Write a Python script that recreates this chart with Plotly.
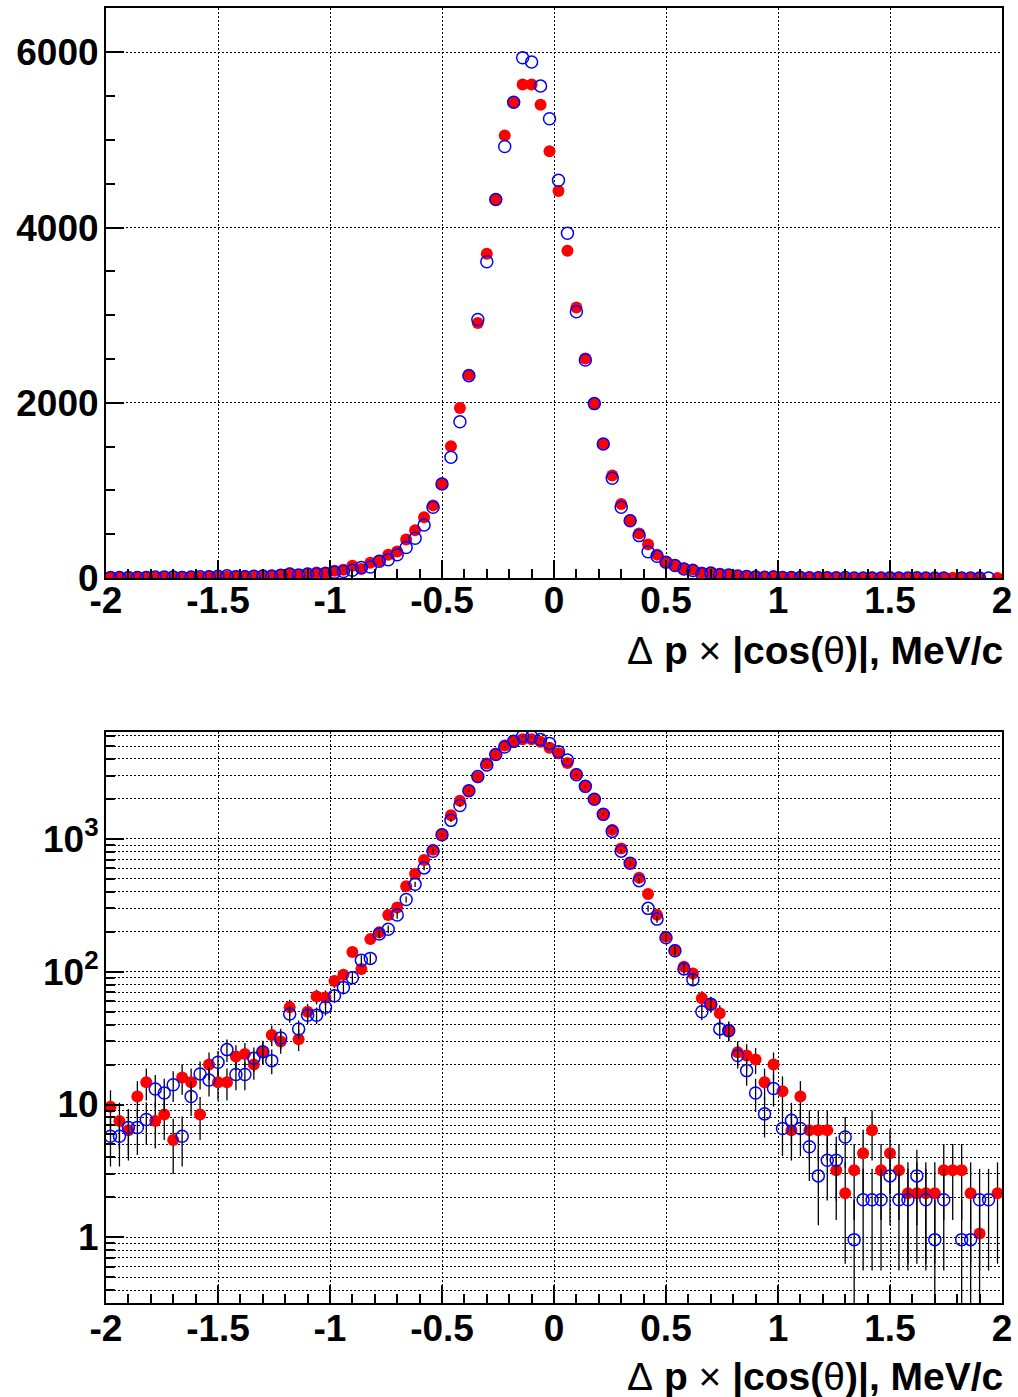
import numpy as np
import plotly.graph_objects as go

# bin centres (MeV/c), 100 bins of 0.04 between -2 and 2
bin_x = [-1.98, -1.94, -1.90, -1.86, -1.82, -1.78, -1.74, -1.70, -1.66, -1.62,
         -1.58, -1.54, -1.50, -1.46, -1.42, -1.38, -1.34, -1.30, -1.26, -1.22,
         -1.18, -1.14, -1.10, -1.06, -1.02, -0.98, -0.94, -0.90, -0.86, -0.82,
         -0.78, -0.74, -0.70, -0.66, -0.62, -0.58, -0.54, -0.50, -0.46, -0.42,
         -0.38, -0.34, -0.30, -0.26, -0.22, -0.18, -0.14, -0.10, -0.06, -0.02,
         0.02, 0.06, 0.10, 0.14, 0.18, 0.22, 0.26, 0.30, 0.34, 0.38,
         0.42, 0.46, 0.50, 0.54, 0.58, 0.62, 0.66, 0.70, 0.74, 0.78,
         0.82, 0.86, 0.90, 0.94, 0.98, 1.02, 1.06, 1.10, 1.14, 1.18,
         1.22, 1.26, 1.30, 1.34, 1.38, 1.42, 1.46, 1.50, 1.54, 1.58,
         1.62, 1.66, 1.70, 1.74, 1.78, 1.82, 1.86, 1.90, 1.94, 1.98]

red_vals = [9.6, 7.5, 6.4, 11.5, 14.7, 7.5, 8.4, 5.4, 16.0, 14.7,
            8.4, 20.0, 14.7, 14.7, 23.0, 24.0, 20.0, 25.0, 33.4, 29.8,
            54, 31, 50, 65, 64, 85, 95, 141, 105, 176,
            198, 267, 305, 440, 546, 695, 830, 1080, 1505, 1940,
            2320, 2910, 3700, 4320, 5050, 5430, 5633, 5633, 5402, 4870,
            4418, 3734, 3088, 2507, 1991, 1531, 1170, 847, 660, 510,
            385, 268, 183, 146, 109, 97, 63, 57, 48.7, 36,
            24.7, 23.4, 21.8, 14.7, 20.0, 12.6, 6.4, 11.5, 6.4, 6.4,
            6.4, 3.2, 2.15, 3.2, 4.3, 6.4, 3.2, 4.3, 3.2, 2.15,
            2.15, 2.15, 2.15, 3.2, 3.2, 3.2, 2.15, 1.07, None, 2.15]

blue_vals = [5.76, 5.76, 6.7, 6.7, 7.7, 13.1, 12.2, 14.1, 5.76, 11.5,
             17.0, 15.3, 20.8, 25.9, 16.8, 16.8, 22.3, 25.0, 21.4, 31.7,
             48, 37, 47, 47, 54, 66, 76, 90, 122, 126,
             192, 209, 267, 350, 455, 605, 808, 1075, 1380, 1785,
             2310, 2950, 3610, 4320, 4925, 5430, 5937, 5888, 5614, 5242,
             4539, 3935, 3039, 2488, 1991, 1531, 1140, 809, 655, 485,
             300, 249, 180, 144, 105, 87, 50, 57, 37.1, 36,
             23.4, 18.0, 12.2, 8.5, 13.2, 6.6, 7.6, 6.6, 4.8, 2.9,
             3.8, 3.8, 5.7, 0.96, 1.92, 1.92, 1.92, 2.9, 1.92, 1.92,
             2.9, 1.92, 0.96, 1.92, None, 0.96, 0.96, 1.92, 1.92, None]

# per-entry weights of the two scaled histograms (errors = sqrt(content*w))
red_weight = 1.07
blue_weight = 0.96

x_tick_vals = [-2, -1.5, -1, -0.5, 0, 0.5, 1, 1.5, 2]
x_tick_text = ["-2", "-1.5", "-1", "-0.5", "0", "0.5", "1", "1.5", "2"]
lin_tick_vals = [0, 2000, 4000, 6000]
lin_tick_text = ["0", "2000", "4000", "6000"]
log_tick_vals = [1, 10, 100, 1000]
log_tick_text = ["1", "10", "10<sup>2</sup>", "10<sup>3</sup>"]
x_title = ('<span style="font-weight:normal">\u0394</span> p '
           '<span style="font-weight:normal">\u00d7</span> |cos('
           '<span style="font-weight:normal">\u03b8</span>)|, MeV/c')


def errs(vals, w):
    return [None if v is None else float(np.sqrt(v * w)) for v in vals]


red_err = errs(red_vals, red_weight)
blue_err = errs(blue_vals, blue_weight)

FONT = "Liberation Sans"
RED = "rgb(255,0,0)"
BLUE = "rgb(0,0,255)"

fig = go.Figure()

# top (linear)
fig.add_trace(go.Scatter(x=bin_x, y=red_vals, mode="markers", xaxis="x", yaxis="y",
                         marker=dict(symbol="circle", size=12, color=RED, line=dict(width=0)),
                         showlegend=False))
fig.add_trace(go.Scatter(x=bin_x, y=blue_vals, mode="markers", xaxis="x", yaxis="y",
                         marker=dict(symbol="circle-open", size=12, color=BLUE, line=dict(width=1.5, color=BLUE)),
                         showlegend=False))
# bottom (log)
fig.add_trace(go.Scatter(x=bin_x, y=red_vals, mode="markers", xaxis="x2", yaxis="y2",
                         error_y=dict(type="data", array=red_err, visible=True, color="black", thickness=1.3, width=0),
                         marker=dict(symbol="circle", size=12, color=RED, line=dict(width=0)),
                         showlegend=False))
fig.add_trace(go.Scatter(x=bin_x, y=blue_vals, mode="markers", xaxis="x2", yaxis="y2",
                         error_y=dict(type="data", array=blue_err, visible=True, color="black", thickness=1.3, width=0),
                         marker=dict(symbol="circle-open", size=12, color=BLUE, line=dict(width=1.5, color=BLUE)),
                         showlegend=False))

tickfont = dict(family=FONT, size=37, color="black", weight="bold")
grid = dict(showgrid=True, gridcolor="black", gridwidth=1, griddash="2px,2px")
frame = dict(showline=True, linecolor="black", linewidth=2, mirror=True, zeroline=False)

x_minor = [round(-2 + 0.1 * k, 1) for k in range(41)]
x_common = dict(range=[-2, 2], tickmode="array", tickvals=x_tick_vals, ticktext=x_tick_text,
                ticks="inside", ticklen=18, tickwidth=1.5, tickcolor="black",
                tickfont=tickfont, ticklabelstandoff=-12,
                minor=dict(tickvals=x_minor, ticks="inside", ticklen=9, tickwidth=1.5,
                           tickcolor="black", showgrid=False),
                **grid, **frame)

lin_minor = [500 * k for k in range(14)]
log_minor = []
for dec in [0.1, 1, 10, 100, 1000]:
    for m in range(2, 10):
        v = m * dec
        if 0.32 <= v <= 6400:
            log_minor.append(v)

H = 1397
top_px, bot_px = 6, 1303
ph = bot_px - top_px


def frac(p):
    return (bot_px - p) / ph


fig.update_layout(
    width=1018, height=H,
    margin=dict(l=106, r=16, t=top_px, b=H - bot_px),
    paper_bgcolor="white", plot_bgcolor="white",
    font=dict(family=FONT, color="black"),
    xaxis=dict(domain=[0, 1], anchor="y", **x_common),
    yaxis=dict(domain=[frac(577), 1], anchor="x", range=[0, 6505],
               tickmode="array", tickvals=lin_tick_vals, ticktext=lin_tick_text,
               ticks="inside", ticklen=18, tickwidth=1.5, tickcolor="black",
               tickfont=tickfont, ticklabelstandoff=-2,
               minor=dict(tickvals=lin_minor, ticks="inside", ticklen=9, tickwidth=1.5,
                          tickcolor="black", showgrid=False),
               **grid, **frame),
    xaxis2=dict(domain=[0, 1], anchor="y2", **dict(x_common, ticklabelstandoff=-8)),
    yaxis2=dict(domain=[0, frac(731)], anchor="x2", type="log",
                range=[np.log10(0.32), np.log10(6400)],
                tickmode="array", tickvals=log_tick_vals, ticktext=log_tick_text,
                ticks="inside", ticklen=18, tickwidth=1.5, tickcolor="black",
                tickfont=tickfont, ticklabelstandoff=-2,
                minor=dict(tickvals=log_minor, ticks="inside", ticklen=9, tickwidth=1.5,
                           tickcolor="black", showgrid=True, gridcolor="black",
                           gridwidth=1, griddash="2px,2px"),
                **grid, **frame),
    annotations=[
        dict(text=x_title, xref="paper", yref="paper", x=1.003, y=frac(650),
             xanchor="right", yanchor="middle", showarrow=False,
             font=dict(family=FONT, size=39, color="black", weight="bold")),
        dict(text=x_title, xref="paper", yref="paper", x=1.003, y=frac(1377),
             xanchor="right", yanchor="middle", showarrow=False,
             font=dict(family=FONT, size=39, color="black", weight="bold")),
    ],
)

fig.write_html("out.html", config={"displayModeBar": False},
               post_script="document.body.style.margin='0';document.body.style.overflow='hidden';")
